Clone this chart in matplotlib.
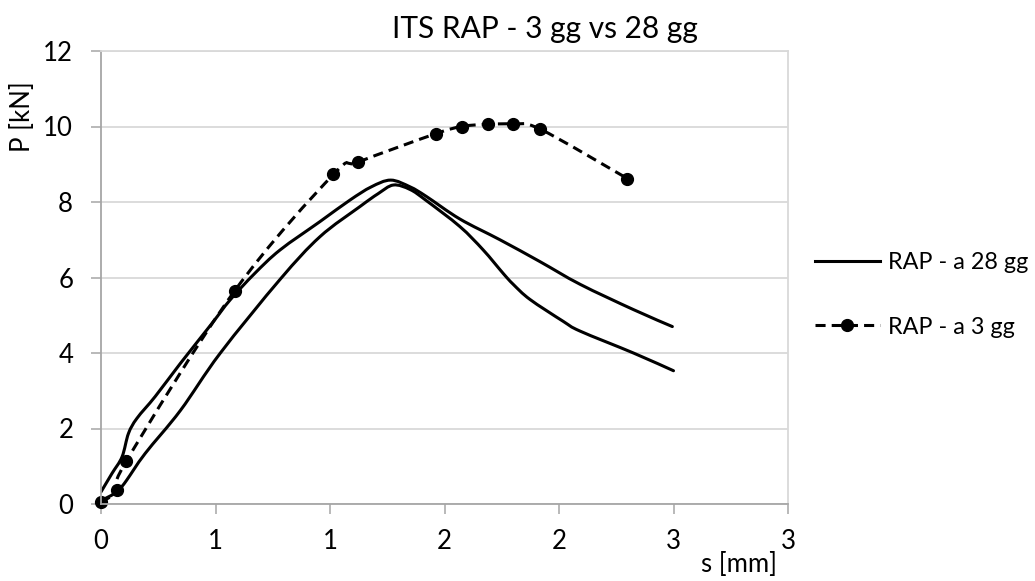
import matplotlib
matplotlib.use("Agg")
import matplotlib.pyplot as plt
import numpy as np
from matplotlib.path import Path
from matplotlib.patches import PathPatch
from matplotlib.lines import Line2D

plt.rcParams['font.family'] = ['Lato', 'DejaVu Sans']

# RAP specimens cured 28 days (two tests, one legend entry)
s_28a = [0.000, 0.048, 0.092, 0.120, 0.157, 0.237, 0.346, 0.484, 0.563, 0.670,
         0.782, 0.956, 1.087, 1.180, 1.265, 1.350, 1.420, 1.567, 1.742, 1.917,
         2.092, 2.325, 2.495]
p_28a = [0.32, 0.81, 1.25, 1.87, 2.27, 2.85, 3.72, 4.78, 5.40, 6.10,
         6.73, 7.48, 8.05, 8.40, 8.58, 8.40, 8.15, 7.55, 7.00, 6.42,
         5.82, 5.15, 4.70]

s_28b = [0.000, 0.046, 0.083, 0.112, 0.193, 0.347, 0.520, 0.782, 0.956, 1.131,
         1.210, 1.277, 1.350, 1.420, 1.567, 1.669, 1.756, 1.800, 1.873, 2.018,
         2.092, 2.325, 2.500]
p_28b = [0.10, 0.23, 0.41, 0.63, 1.34, 2.48, 3.99, 5.95, 7.08, 7.88,
         8.22, 8.45, 8.33, 8.04, 7.35, 6.73, 6.11, 5.82, 5.42, 4.84,
         4.58, 4.00, 3.53]

# RAP specimens cured 3 days
s_3 = [0.000, 0.068, 0.110, 0.583, 1.015, 1.124, 1.462, 1.576, 1.688, 1.800, 1.918, 2.299]
p_3 = [0.04, 0.36, 1.13, 5.64, 8.73, 9.06, 9.81, 10.00, 10.06, 10.06, 9.93, 8.62]

x_ticks = [0.0, 0.5, 1.0, 1.5, 2.0, 2.5, 3.0]
x_tick_labels = ['0', '1', '1', '2', '2', '3', '3']
y_ticks = [0, 2, 4, 6, 8, 10, 12]

series_labels = ['RAP - a 28 gg', 'RAP - a 3 gg']
title = 'ITS RAP - 3 gg vs 28 gg'


def smooth_path(xs, ys):
    """Smoothed curve through the points (Catmull-Rom as cubic Beziers)."""
    pts = np.column_stack([xs, ys]).astype(float)
    n = len(pts)
    verts = [pts[0]]
    codes = [Path.MOVETO]
    for i in range(n - 1):
        p0 = pts[i - 1] if i > 0 else pts[i]
        p1 = pts[i]
        p2 = pts[i + 1]
        p3 = pts[i + 2] if i + 2 < n else pts[i + 1]
        c1 = p1 + (p2 - p0) / 6.0
        c2 = p2 - (p3 - p1) / 6.0
        verts += [c1, c2, p2]
        codes += [Path.CURVE4] * 3
    return Path(verts, codes)


W, H = 1035, 581
fig = plt.figure(figsize=(W / 100, H / 100), dpi=100)
ax = fig.add_axes([101 / W, 1 - 504 / H, (788 - 101) / W, (504 - 51) / H])

ax.set_xlim(0, 3)
ax.set_ylim(0, 12)
ax.set_xticks(x_ticks, x_tick_labels)
ax.set_yticks(y_ticks)

grid_c = '#D9D9D9'
axis_c = '#A6A6A6'
ax.grid(axis='y', color=grid_c, lw=1.3)
ax.set_axisbelow(True)
for side in ['left', 'bottom']:
    ax.spines[side].set_color(axis_c)
    ax.spines[side].set_linewidth(1.3)
for side in ['top', 'right']:
    ax.spines[side].set_color(grid_c)
    ax.spines[side].set_linewidth(1.3)

ax.tick_params(axis='both', direction='out', length=7, width=1.1, color=axis_c,
               labelsize=18.5, labelcolor='black')
ax.tick_params(axis='x', pad=11)
ax.tick_params(axis='y', pad=13)

lw = 2.2
dash = (0, (3.3, 2.0))

for xs, ys in [(s_28a, p_28a), (s_28b, p_28b)]:
    ax.add_patch(PathPatch(smooth_path(xs, ys), fill=False, edgecolor='black',
                           lw=lw, capstyle='round', joinstyle='round'))

ax.add_patch(PathPatch(smooth_path(s_3, p_3), fill=False, edgecolor='black',
                       lw=lw, linestyle=dash, capstyle='butt'))
ax.plot(s_3, p_3, linestyle='none', marker='o', ms=8.5, color='black', clip_on=False)

handles = [Line2D([], [], color='black', lw=lw),
           Line2D([], [], color='black', lw=lw, linestyle=dash, marker='o', ms=8.5)]
fig.legend(handles, series_labels, loc='center left',
           bbox_to_anchor=(806 / W, 1 - 295 / H), frameon=False, fontsize=16.8,
           handlelength=2.75, handletextpad=0.35, labelspacing=1.85, borderaxespad=0)

fig.text(545 / W, 1 - 38 / H, title, ha='center', va='baseline', fontsize=21.5)
fig.text(23 / W, 1 - 117 / H, 'P [kN]', rotation=90, ha='center', va='center', fontsize=18.5)
fig.text(739 / W, 1 - 565 / H, 's [mm]', ha='center', va='center', fontsize=18.5)

fig.savefig('out.png', dpi=100, facecolor='white')
